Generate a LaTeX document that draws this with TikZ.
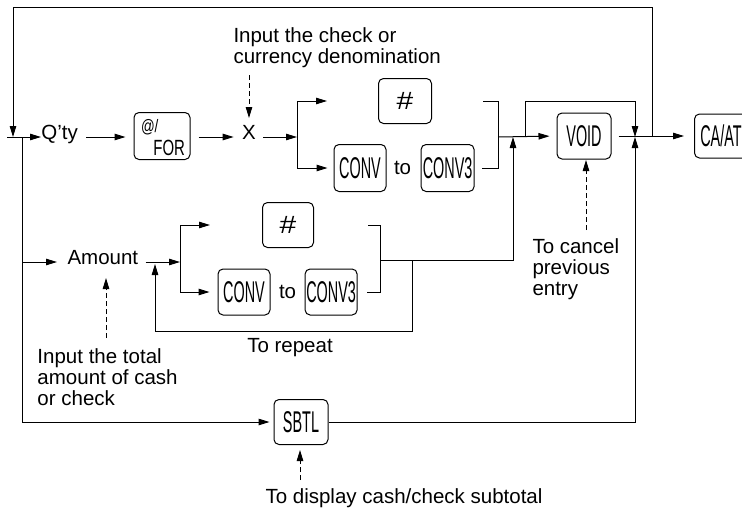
\documentclass[tikz,border=0pt]{standalone}
\usepackage{fontspec}
\setmainfont{Liberation Sans}
\usepackage{graphicx}
\usetikzlibrary{arrows.meta,positioning,calc}

\newcommand{\keyname}[1]{\scalebox{0.48}[1]{\fontsize{30}{30}\selectfont #1}}
\newcommand{\hashkey}{\scalebox{1.2}[1]{\fontsize{25}{25}\selectfont\#}}

\begin{document}
\begin{tikzpicture}[
    x=1pt, y=-1pt, line width=1pt,
    font=\fontsize{20.5}{21}\selectfont,
    key/.style={draw, rounded corners=5pt, minimum width=53pt, minimum height=46pt,
      inner sep=0pt},
    lbl/.style={inner sep=0pt},
    note/.style={align=left, inner sep=0pt, anchor=north west},
    arrow/.style={-{Triangle[length=11pt,width=6.5pt]}},
    hint/.style={-{Triangle[length=11pt,width=6.5pt]}, dash pattern=on 5pt off 3pt}
  ]
    \useasboundingbox (0,0) rectangle (742,509);
    % main row
    \node[lbl, anchor=mid west] (qty) at (41,137) {Q’ty};
    \node[key, minimum width=56pt, minimum height=47pt] (atfor) at (162,136) {};
    \node[anchor=north west, inner sep=0pt] at ([shift={(7,7)}]atfor.north west)
      {\scalebox{0.75}[1]{\fontsize{18}{18}\selectfont @/}};
    \node[anchor=south east, inner sep=0pt] at ([shift={(-5,-4)}]atfor.south east)
      {\scalebox{0.68}[1]{\fontsize{22}{22}\selectfont FOR}};
    \node[lbl, anchor=mid] (x) at (249,137) {X};
    \node[key, minimum height=45pt] (hashA) at (405,101) {\hashkey};
    \node[key, minimum width=52pt, minimum height=47pt] (convA) at (360,168) {\keyname{CONV}};
    \node[lbl, right=7pt of convA] (toA) {to};
    \node[key, minimum height=47pt, right=9pt of toA] (convB) {\keyname{CONV3}};
    \node[key, minimum width=54pt] (void) at (584,136) {\keyname{VOID}};
    \node[key, minimum width=62pt, minimum height=44pt, anchor=west] (caat) at (694,136)
      {\hspace*{-9pt}\keyname{CA/AT}};
    % amount row
    \node[lbl, anchor=mid west] (amount) at (67,262) {Amount};
    \node[key, minimum width=51pt, minimum height=45pt] (hashB) at (288,225) {\hashkey};
    \node[key, minimum width=52pt] (convC) at (244,292) {\keyname{CONV}};
    \node[lbl, right=8pt of convC] (toB) {to};
    \node[key, minimum width=52pt, right=8pt of toB] (convD) {\keyname{CONV3}};
    % subtotal row
    \node[key, minimum width=54pt, minimum height=45pt] (sbtl) at (301,422) {\keyname{SBTL}};
    % notes
    \node[note] (noteX) at (233,27) {Input the check or\\currency denomination};
    \node[note] (noteV) at (532,238) {To cancel\\previous\\entry};
    \node[note] (noteA) at (37,348) {Input the total\\amount of cash\\or check};
    \node[lbl, anchor=north] (noteR) at (290,338) {To repeat};
    \node[lbl, anchor=north] (noteS) at (404,488) {To display cash/check subtotal};
    % junctions
    \coordinate (start) at (7,137);
    \coordinate (split) at (22,137);
    \coordinate (forkA) at (297,137);
    \coordinate (joinA) at (498,137);
    \coordinate (skip) at (525,137);
    \coordinate (meet) at (635,137);
    \coordinate (back) at (652,137);
    \coordinate (forkB) at (180,262);
    \coordinate (joinB) at (380,260);
    \coordinate (rise) at (513,137);
    % connectors
    \draw (start) -- (split);
    \draw[arrow] (split) -- (qty.mid west);
    \draw[arrow, shorten <=8pt, shorten >=8pt] (qty.mid east) -- (atfor.west |- qty.mid);
    \draw[arrow, shorten <=8pt, shorten >=8pt] (atfor.east |- x.mid) -- (x.mid west);
    \draw[arrow, shorten <=14pt] (x.mid) -- (forkA);
    \draw (forkA |- hashA) -- (forkA |- convA);
    \draw[arrow] (forkA |- hashA) -- ++(30,0);
    \draw[arrow, shorten >=6pt] (forkA |- convA) -- (convA.west);
    \draw ([xshift=51pt]hashA.east) -| (joinA |- convB) -- ([xshift=7pt]convB.east);
    \draw[arrow, shorten >=7pt] (joinA) -- (void.west);
    \draw[arrow] (skip) -- (skip |- hashA) -| (meet);
    \draw[arrow, shorten <=7pt, shorten >=10pt] (void.east) -- (caat.west);
    \draw[arrow] (back) -- ++(0,-130) -| (13,137);
    % amount row connectors
    \draw (split) -- (split |- sbtl);
    \draw[arrow, shorten >=10pt] (split |- amount.mid) -- (amount.mid west);
    \draw[arrow, shorten <=7pt] (amount.mid east) -- (forkB);
    \draw (forkB |- hashB) -- (forkB |- convC);
    \draw[arrow] (forkB |- hashB) -- ++(30,0);
    \draw[arrow, shorten >=8pt] (forkB |- convC) -- (convC.west);
    \draw ([xshift=54pt]hashB.east) -| (joinB |- convD) -- ([xshift=9pt]convD.east);
    \draw[arrow] (joinB) -| (rise);
    \draw[arrow] (joinB -| 412,0) -- (412,331) -| (155,264);
    % subtotal row
    \draw[arrow, shorten >=4pt] (split |- sbtl) -- (sbtl.west);
    \draw[arrow] (sbtl.east) -| (meet);
    % hints
    \draw[hint] (249,75) -- (249,118);
    \draw[hint] (586,230) -- (586,160);
    \draw[hint] (106,338) -- (106,278);
    \draw[hint] (300,480) -- (300,450);
  \end{tikzpicture}
\end{document}
